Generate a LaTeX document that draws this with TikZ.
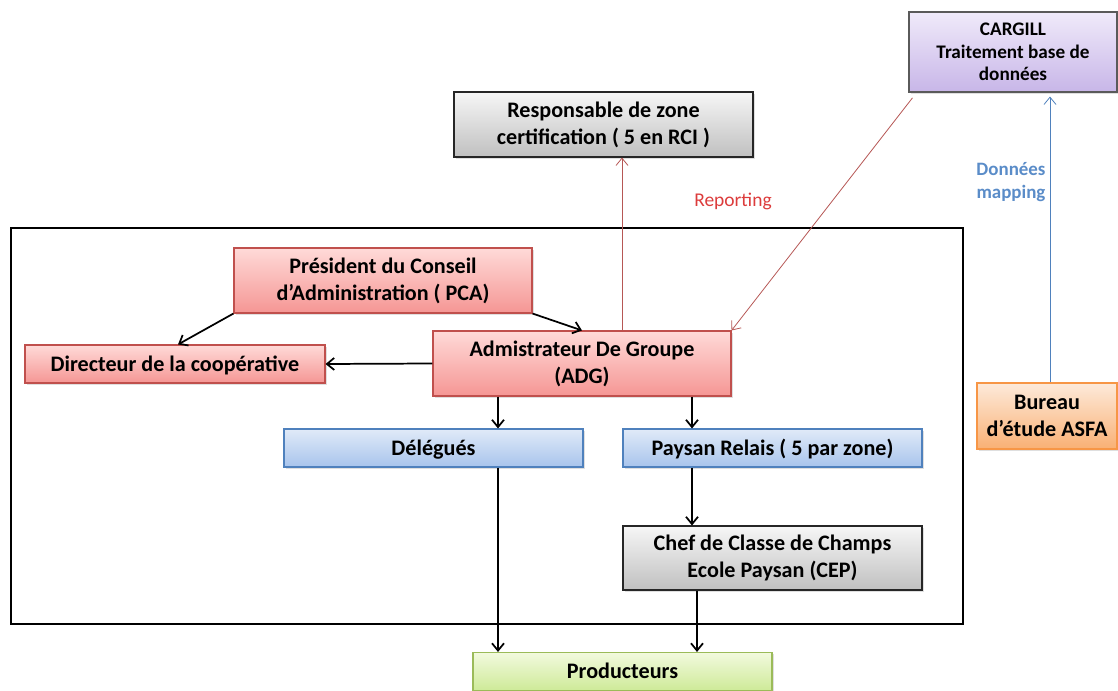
\documentclass[tikz,border=0pt]{standalone}
\usepackage{fontspec}
\setmainfont{Carlito}
\usetikzlibrary{arrows.meta,shadows}
\definecolor{redB}{RGB}{192,80,77}
\definecolor{blueB}{RGB}{79,129,189}
\definecolor{greenB}{RGB}{155,187,89}
\definecolor{orangeB}{RGB}{247,150,70}
\definecolor{purpB}{RGB}{90,90,90}
\definecolor{repred}{RGB}{220,60,60}
\definecolor{mapblue}{RGB}{90,140,200}
\tikzset{
  box/.style={rectangle, draw, line width=0.8pt, align=center, inner sep=1pt,
    font=\fontsize{16.6}{20.3}\selectfont\bfseries,
    drop shadow={opacity=0.25, shadow xshift=1.2pt, shadow yshift=-1.2pt}},
  oneline/.style={text height=13pt, text depth=2pt},
  redbox/.style={box, draw=redB, top color={rgb,255:red,255;green,218;blue,216}, bottom color={rgb,255:red,245;green,150;blue,148}},
  bluebox/.style={box, draw=blueB, top color={rgb,255:red,224;green,234;blue,248}, bottom color={rgb,255:red,168;green,196;blue,236}},
  graybox/.style={box, draw=black!85, top color={rgb,255:red,246;green,246;blue,246}, bottom color={rgb,255:red,192;green,192;blue,192}},
  purpbox/.style={box, draw=purpB, top color={rgb,255:red,240;green,234;blue,250}, bottom color={rgb,255:red,200;green,182;blue,232}, font=\fontsize{14.4}{17}\selectfont\bfseries},
  greenbox/.style={box, draw=greenB, top color={rgb,255:red,242;green,250;blue,222}, bottom color={rgb,255:red,206;green,234;blue,152}},
  orangebox/.style={box, draw=orangeB, top color={rgb,255:red,253;green,234;blue,218}, bottom color={rgb,255:red,249;green,176;blue,116}},
  conn/.style={-{Straight Barb[length=5.5pt,width=9pt]}, line width=1.3pt, black},
  redconn/.style={-{Straight Barb[length=5.5pt,width=9pt]}, line width=0.6pt, redB!85!gray},
  blueconn/.style={-{Straight Barb[length=5.5pt,width=9pt]}, line width=0.6pt, blueB},
}
\begin{document}
\begin{tikzpicture}[x=0.75pt,y=-0.75pt]
\useasboundingbox (0,0) rectangle (1118,691);
% frame
\draw[line width=2.2pt] (11,228) rectangle (963,624);
% nodes
\node[purpbox, minimum width=156pt, minimum height=60pt] (cargill) at (1013,52) {CARGILL\\Traitement base de\\données};
\node[graybox, minimum width=224.25pt, minimum height=48.75pt] (resp) at (603.5,124.5) {Responsable de zone\\certification ( 5 en RCI )};
\node[redbox, minimum width=223.5pt, minimum height=48.75pt] (pca) at (383,280.5) {Président du Conseil\\d’Administration ( PCA)};
\node[redbox, oneline, minimum width=225pt, minimum height=28.5pt] (dir) at (175,364) {Directeur de la coopérative};
\node[redbox, minimum width=223.5pt, minimum height=48.75pt] (adg) at (582,363.5) {Admistrateur De Groupe\\(ADG)};
\node[bluebox, oneline, minimum width=224.25pt, minimum height=28.5pt] (del) at (433.5,448) {Délégués};
\node[bluebox, oneline, minimum width=224.25pt, minimum height=28.5pt] (pr) at (772.5,448) {Paysan Relais ( 5 par zone)};
\node[graybox, minimum width=224.25pt, minimum height=48pt] (chef) at (772.5,558) {Chef de Classe de Champs\\Ecole Paysan (CEP)};
\node[greenbox, oneline, minimum width=224.25pt, minimum height=28.5pt] (prod) at (622.5,671.5) {Producteurs};
\node[orangebox, minimum width=105pt, minimum height=49.5pt] (bur) at (1047,416) {Bureau\\d’étude ASFA};
% helper coordinates
\coordinate (xA) at (498,0);
\coordinate (xB) at (692,0);
\coordinate (xC) at (697,0);
\coordinate (xR) at (622,0);
\coordinate (xM) at (1050,0);
\coordinate (dirT) at (178,345);
% connectors
\draw[conn] (pca.south west) -- (dir.north -| dirT);
\draw[conn] (pca.south east) -- (adg.north);
\draw[conn] (adg.west) -- (dir.east);
\draw[conn] (adg.south -| xA) -- (del.north -| xA);
\draw[conn] (adg.south -| xB) -- (pr.north -| xB);
\draw[conn] (del.south -| xA) -- (prod.north -| xA);
\draw[conn] (pr.south -| xB) -- (chef.north -| xB);
\draw[conn] (chef.south -| xC) -- (prod.north -| xC);
\draw[redconn] (adg.north -| xR) -- (resp.south -| xR);
\draw[redconn] ([xshift=3pt,yshift=-4pt]cargill.south west) -- (adg.north east);
\draw[blueconn] (bur.north -| xM) -- ([yshift=-3pt]cargill.south -| xM);
% labels
\node[text=repred, font=\fontsize{14.6}{17}\selectfont] (rep) at (733,201) {Reporting};
\node[text=mapblue, font=\fontsize{14.2}{17}\selectfont\bfseries, align=center] (map) at (1011,182) {Données\\mapping};
\end{tikzpicture}
\end{document}
